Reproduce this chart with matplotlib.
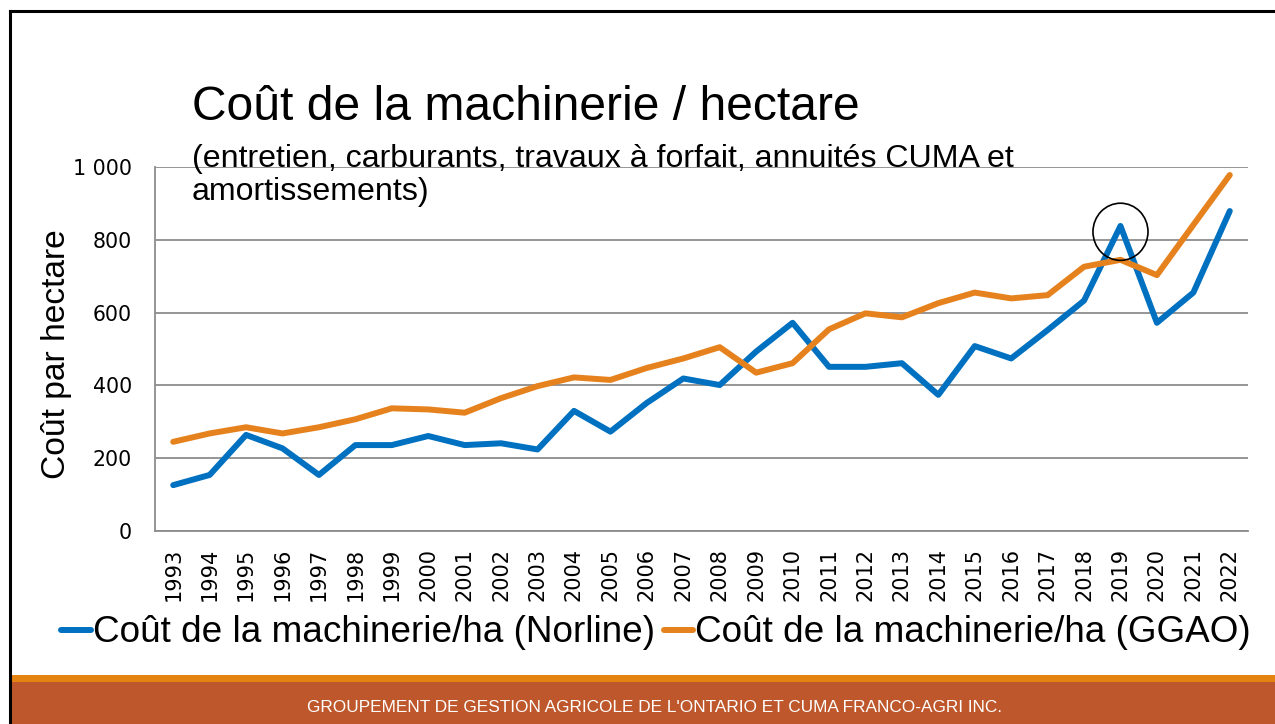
import matplotlib
matplotlib.use("Agg")
import matplotlib.pyplot as plt
from matplotlib.patches import Rectangle, Ellipse
from matplotlib.lines import Line2D
import numpy as np

years = [str(y) for y in range(1993, 2023)]
norline = [126, 154, 264, 227, 154, 236, 236, 261, 236, 241, 224, 330, 273, 352, 419,
           401, 493, 572, 451, 451, 461, 374, 508, 474, 552, 633, 838, 572, 655, 879]
ggao = [245, 268, 285, 268, 285, 307, 337, 334, 325, 365, 398, 422, 415, 448, 474,
        505, 435, 461, 554, 598, 587, 626, 655, 639, 648, 726, 745, 703, 841, 978]
yticks = [0, 200, 400, 600, 800, 1000]
ytick_labels = ["0", "200", "400", "600", "800", "1 000"]
series_labels = ["Coût de la machinerie/ha (Norline)", "Coût de la machinerie/ha (GGAO)"]
highlight_year = "2019"
highlight_value = 822

W, H = 1275, 724
fig = plt.figure(figsize=(W / 100, H / 100), dpi=100)
fig.patch.set_facecolor("white")

SANS = ["Liberation Sans", "DejaVu Sans"]
TICKF = ["DejaVu Sans"]

ax = fig.add_axes([155 / W, 1 - 531 / H, (1248 - 155) / W, (531 - 167) / H])
x = np.arange(len(years))
l1, = ax.plot(x, norline, color="#0070C0", lw=4.3, solid_capstyle="round",
              solid_joinstyle="round", zorder=3)
l2, = ax.plot(x, ggao, color="#E6821E", lw=4.3, solid_capstyle="round",
              solid_joinstyle="round", zorder=3)

ax.set_xlim(-0.5, len(years) - 0.5)
ax.set_ylim(0, 1000)
ax.set_yticks(yticks)
ax.set_yticklabels(ytick_labels, fontsize=14.8, family=TICKF)
ax.set_xticks(x)
ax.set_xticklabels(years, rotation=90, fontsize=15, family=TICKF)
ax.tick_params(axis="both", length=0)
ax.tick_params(axis="y", pad=16.5)
ax.tick_params(axis="x", pad=12)
ax.grid(axis="y", color="#8C8C8C", lw=1.3, zorder=0)
ax.set_axisbelow(True)
for s in ["top", "right"]:
    ax.spines[s].set_visible(False)
for s in ["left", "bottom"]:
    ax.spines[s].set_color("#8C8C8C")
    ax.spines[s].set_linewidth(1.3)

hi = years.index(highlight_year)
ax.add_patch(Ellipse((hi, highlight_value), width=1.51, height=157, fill=False,
                     edgecolor="black", lw=1.2, zorder=4))

# Titles
fig.text(192 / W, 1 - 120 / H, "Coût de la machinerie / hectare", fontsize=34.6,
         family=SANS, va="baseline", ha="left")
fig.text(192 / W, 1 - 166.5 / H, "(entretien, carburants, travaux à forfait, annuités CUMA et",
         fontsize=23.1, family=SANS, va="baseline", ha="left")
fig.text(192 / W, 1 - 200 / H, "amortissements)", fontsize=23.1, family=SANS,
         va="baseline", ha="left")
fig.text(57 / W, 1 - 354 / H, "Coût par hectare", fontsize=24.2, family=SANS,
         rotation=90, ha="center", va="center")

leg = fig.legend([l1, l2], series_labels, loc="center",
                 bbox_to_anchor=(656 / W, 1 - 633 / H), ncol=2, frameon=False,
                 prop={"family": SANS, "size": 26.6}, handlelength=0.8,
                 handletextpad=0.05, columnspacing=0.25, borderpad=0, borderaxespad=0)
for h in leg.legend_handles:
    h.set_solid_capstyle("round")

# Footer
fig.patches.append(Rectangle((11 / W, 1 - 682 / H), 1 - 11 / W, 7 / H,
                             transform=fig.transFigure, facecolor="#E48312",
                             edgecolor="none", zorder=1))
fig.patches.append(Rectangle((11 / W, 0), 1 - 11 / W, 1 - 682 / H,
                             transform=fig.transFigure, facecolor="#BE582C",
                             edgecolor="none", zorder=1))
fig.text(655 / W, 1 - 707 / H,
         "GROUPEMENT DE GESTION AGRICOLE DE L'ONTARIO ET CUMA FRANCO-AGRI INC.",
         fontsize=12.4, family=SANS, color="white", ha="center", va="center")

# Frame
fig.lines.append(Line2D([9.5 / W, 1], [1 - 11.3 / H, 1 - 11.3 / H],
                        transform=fig.transFigure, color="black", lw=2.2))
fig.lines.append(Line2D([9.5 / W, 9.5 / W], [0, 1 - 11.3 / H],
                        transform=fig.transFigure, color="black", lw=2.2))

fig.savefig("out.png", dpi=100)
